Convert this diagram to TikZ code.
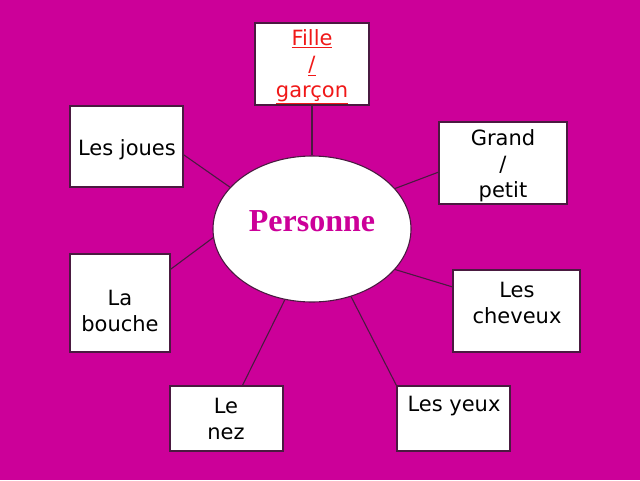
\documentclass[tikz,border=0pt]{standalone}
\usepackage{fontspec}
\setmainfont{DejaVu Sans}
\newfontfamily\persfont{Liberation Serif}
\usetikzlibrary{shapes.geometric,calc}
\definecolor{bg}{HTML}{CC0099}
\definecolor{edgec}{HTML}{4A1A40}
\definecolor{fred}{HTML}{F01818}
\begin{document}
\begin{tikzpicture}[x=1pt,y=-1pt,
  box/.style={draw=edgec, fill=white, line width=1.1pt, inner sep=0pt},
  lbl/.style={align=center, font=\fontsize{21}{26}\selectfont, text=black, inner sep=0pt},
  link/.style={draw=edgec, line width=1.1pt}]
\fill[bg] (0,0) rectangle (640,480);
\useasboundingbox (0,0) rectangle (640,480);
% boxes
\node[box, minimum width=114pt, minimum height=82pt] (fille) at (312,64) {};
\node[box, minimum width=113pt, minimum height=81pt] (joues) at (126.5,146.5) {};
\node[box, minimum width=128pt, minimum height=82pt] (grand) at (503,163) {};
\node[box, minimum width=100pt, minimum height=98pt] (bouche) at (120,303) {};
\node[box, minimum width=127pt, minimum height=82pt] (cheveux) at (516.5,311) {};
\node[box, minimum width=113pt, minimum height=65pt] (nez) at (226.5,418.5) {};
\node[box, minimum width=113pt, minimum height=65pt] (yeux) at (453.5,418.5) {};
% ellipse
\node[ellipse, draw=edgec, fill=white, line width=1.1pt, minimum width=198pt, minimum height=146pt, inner sep=0pt] (P) at (312,229) {};
% texts
\node[lbl, text=fred] (tfille) at (312,67) {\underline{Fille}\\\underline{/}\\\underline{garçon}};
\node[lbl] (tjoues) at (127,150) {Les joues};
\node[lbl] (tgrand) at (503,166) {Grand\\/\\petit};
\node[lbl] (tbouche) at (120,311) {La\\bouche};
\node[lbl] (tcheveux) at (517,303) {Les\\cheveux};
\node[lbl] (tnez) at (226,419) {Le\\nez};
\node[lbl] (tyeux) at (454,406) {Les yeux};
\node[font=\persfont\bfseries\fontsize{32}{36}\selectfont, text=bg, inner sep=0pt] (tpers) at (312,221) {Personne};
% connectors
\draw[link] (fille.south) -- (P.90);
\draw[link] ($(joues.north east)!0.6!(joues.south east)$) -- (P.153);
\draw[link] ($(grand.north west)!0.61!(grand.south west)$) -- (P.26);
\draw[link] ($(bouche.north east)!0.16!(bouche.south east)$) -- (P.185);
\draw[link] ($(cheveux.north west)!0.21!(cheveux.south west)$) -- (P.334);
\draw[link] ($(nez.north west)!0.64!(nez.north east)$) -- (P.249.7);
\draw[link] (yeux.north west) -- (P.300.5);
\end{tikzpicture}
\end{document}
